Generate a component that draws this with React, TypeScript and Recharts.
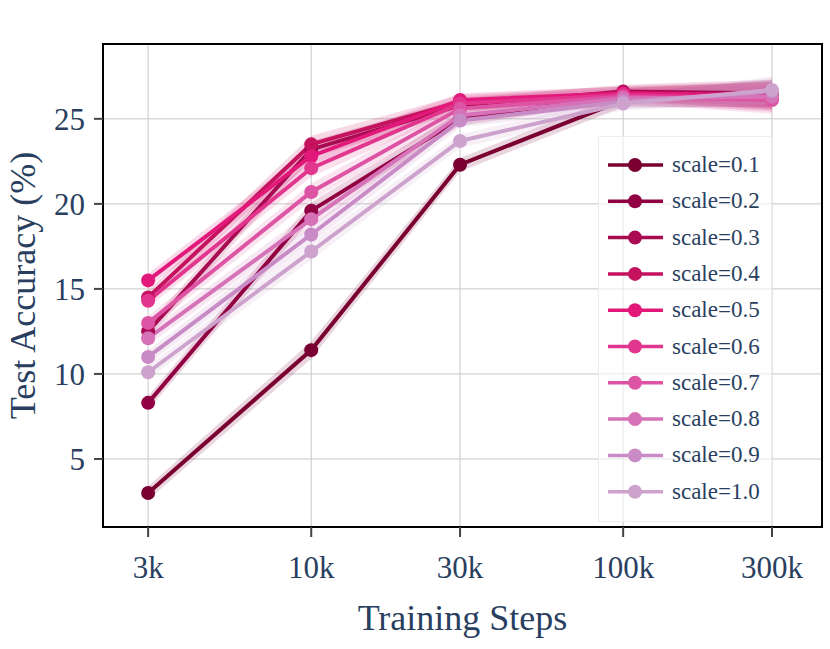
import React from 'react';
import {
  ComposedChart, Line, Area, XAxis, YAxis, CartesianGrid, Legend, ReferenceArea,
} from 'recharts';

// training steps (log x axis) and their tick labels
const steps = [3000, 10000, 30000, 100000, 300000];
const stepLabels = ['3k', '10k', '30k', '100k', '300k'];
const yTicks = [5, 10, 15, 20, 25];

const scaleNames = ['scale=0.1', 'scale=0.2', 'scale=0.3', 'scale=0.4', 'scale=0.5',
  'scale=0.6', 'scale=0.7', 'scale=0.8', 'scale=0.9', 'scale=1.0'];
const colors = ['#7a0032', '#900042', '#a80b52', '#c4125f', '#e2197a',
  '#e2358e', '#de54a4', '#d672b7', '#c98bc6', '#cda3cd'];

// test accuracy (%) per scale
const acc01 = [3.0, 11.4, 22.3, 26.1, 26.5];
const acc02 = [8.3, 19.6, 25.0, 26.4, 26.4];
const acc03 = [12.5, 23.2, 25.8, 26.6, 26.5];
const acc04 = [14.5, 23.5, 26.0, 26.5, 26.3];
const acc05 = [15.5, 22.8, 26.1, 26.5, 26.4];
const acc06 = [14.3, 22.1, 25.9, 26.4, 26.2];
const acc07 = [13.0, 20.7, 25.6, 26.3, 26.1];
const acc08 = [12.1, 19.1, 25.2, 26.2, 26.3];
const acc09 = [11.0, 18.2, 24.9, 26.0, 26.6];
const acc10 = [10.1, 17.2, 23.7, 25.9, 26.7];
// half-width of the shaded band around each curve
const spread = [0.4, 0.5, 0.4, 0.4, 0.8];

const series = [acc01, acc02, acc03, acc04, acc05, acc06, acc07, acc08, acc09, acc10];

const data = steps.map((step, i) => {
  const row: any = { step };
  series.forEach((s, k) => {
    row['s' + k] = s[i];
    row['b' + k] = [s[i] - spread[i], s[i] + spread[i]];
  });
  return row;
});

const X_DOMAIN: [number, number] = [2150, 434000];
const Y_DOMAIN: [number, number] = [1, 29.4];
const FONT = '"Liberation Serif", "Times New Roman", serif';
const TEXT = '#2a3f5f';

function LegendBox() {
  return (
    <div style={{
      width: 174, height: 386, boxSizing: 'border-box', border: '1px solid #eeeeee',
      background: 'rgba(255,255,255,0.6)', position: 'relative',
    }}>
      <svg width={174} height={386}>
        {scaleNames.map((name, k) => {
          const cy = 28 + k * 36.3;
          return (
            <g key={name}>
              <line x1={9} x2={64} y1={cy} y2={cy} stroke={colors[k]} strokeWidth={3.5} />
              <circle cx={36} cy={cy} r={7} fill={colors[k]} />
              <text x={73} y={cy + 7} fontSize={23} fontFamily={FONT} fill={TEXT}>{name}</text>
            </g>
          );
        })}
      </svg>
    </div>
  );
}

export default function App() {
  return (
    <div style={{ position: 'absolute', left: 0, top: 0 }}>
      <ComposedChart width={830} height={649} data={data}
        margin={{ top: 44, right: 8, left: 0, bottom: 0 }}>
        <CartesianGrid stroke="#c8c8c8" strokeWidth={1} verticalValues={steps} horizontalValues={yTicks} />
        <XAxis dataKey="step" type="number" scale="log" domain={X_DOMAIN} allowDataOverflow
          ticks={steps} tickFormatter={(v: number) => stepLabels[steps.indexOf(v)]}
          height={122} axisLine={false} tickSize={10} tickMargin={19}
          tickLine={{ stroke: '#444', strokeWidth: 2 }}
          tick={{ fontSize: 31, fontFamily: FONT, fill: TEXT }}
          label={{
            content: ({ viewBox }: any) => (
              <text x={viewBox.x + viewBox.width / 2} y={630} textAnchor="middle"
                fontSize={36} fontFamily={FONT} fill={TEXT}>Training Steps</text>
            ),
          }} />
        <YAxis type="number" domain={Y_DOMAIN} ticks={yTicks} allowDataOverflow
          width={103} axisLine={false} tickSize={9} tickMargin={9}
          tickLine={{ stroke: '#444', strokeWidth: 2 }}
          tick={{ fontSize: 31, fontFamily: FONT, fill: TEXT }}
          label={{
            content: ({ viewBox }: any) => {
              const cy = viewBox.y + viewBox.height / 2;
              return (
                <text x={35} y={cy} transform={`rotate(-90, 35, ${cy})`} textAnchor="middle"
                  fontSize={36} fontFamily={FONT} fill={TEXT}>Test Accuracy (%)</text>
              );
            },
          }} />
        {series.map((_, k) => (
          <Area key={'b' + k} dataKey={'b' + k} type="linear" stroke="none"
            fill={colors[k]} fillOpacity={0.16} isAnimationActive={false} legendType="none" />
        ))}
        {series.map((_, k) => (
          <Line key={'s' + k} dataKey={'s' + k} name={scaleNames[k]} type="linear"
            stroke={colors[k]} strokeWidth={4}
            dot={{ r: 7, fill: colors[k], stroke: 'none' }} activeDot={false}
            isAnimationActive={false} />
        ))}
        <ReferenceArea x1={X_DOMAIN[0]} x2={X_DOMAIN[1]} y1={Y_DOMAIN[0]} y2={Y_DOMAIN[1]}
          fill="none" stroke="#000" strokeWidth={2} fillOpacity={0} />
        <Legend layout="vertical" align="center" verticalAlign="middle"
          wrapperStyle={{ position: 'absolute', left: 598, top: 136, width: 174, height: 386 }}
          content={() => <LegendBox />} />
      </ComposedChart>
    </div>
  );
}
